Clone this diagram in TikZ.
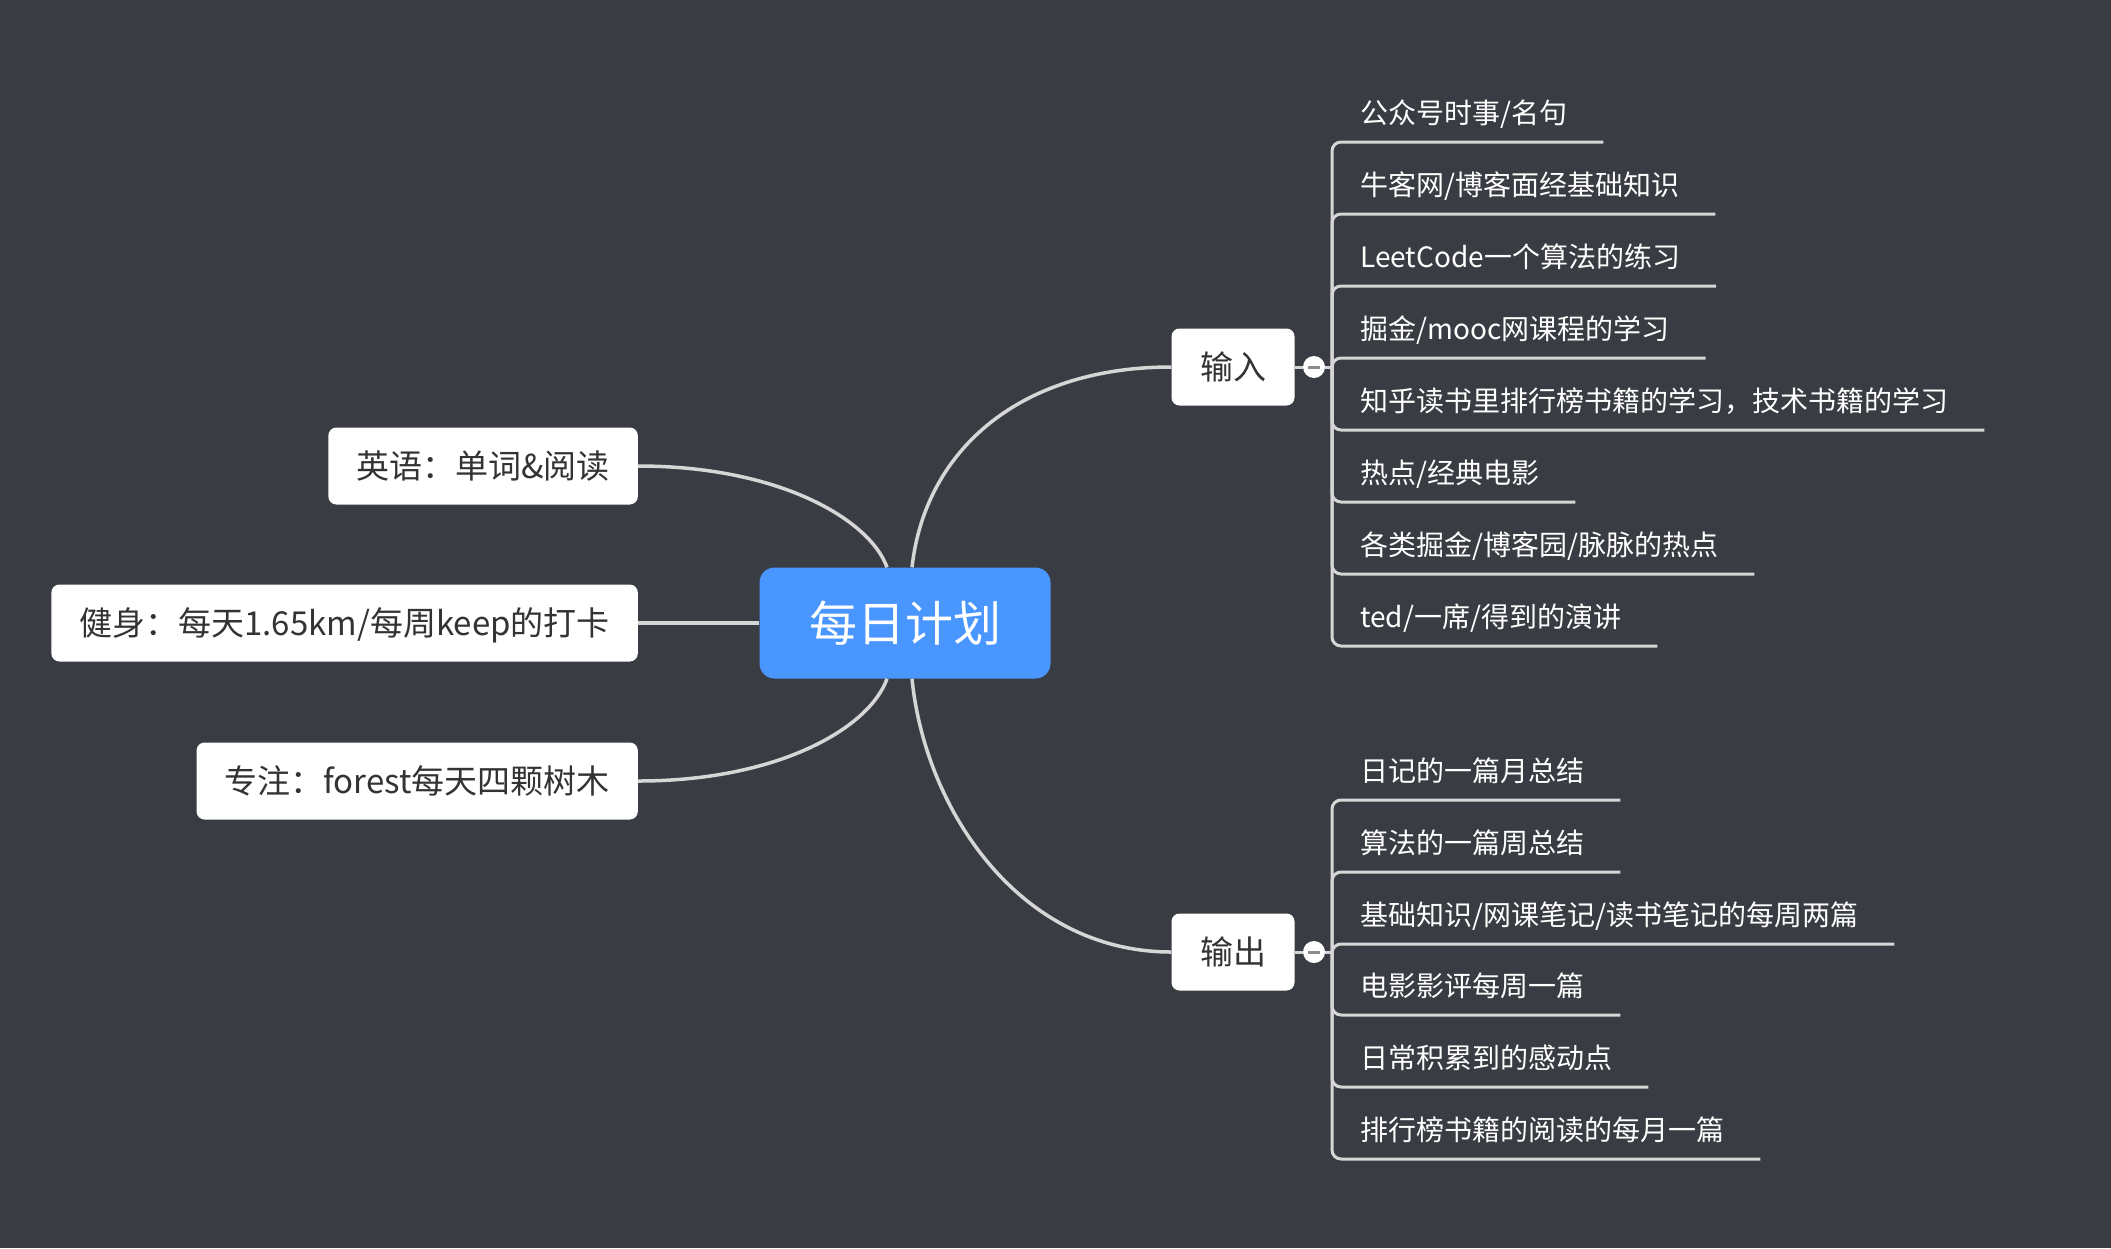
\documentclass[tikz,border=0pt]{standalone}
\usepackage{fontspec}
\setmainfont{Noto Sans CJK SC}
\usepackage{tikz}
\usetikzlibrary{positioning,calc}
\usepackage{xcolor}
\definecolor{canvas}{RGB}{57,60,66}
\definecolor{rootblue}{RGB}{74,150,255}
\definecolor{linegray}{RGB}{214,214,214}
\definecolor{textgray}{RGB}{51,51,51}
\definecolor{foldgray}{RGB}{140,140,140}

\begin{document}
\begin{tikzpicture}[
    x=1pt, y=-1pt,
    root/.style={rectangle, rounded corners=15pt, fill=rootblue, text=white,
                 minimum width=291pt, minimum height=111pt, inner sep=0pt,
                 font=\fontsize{48}{58}\selectfont, text height=42pt, text depth=6pt},
    topic/.style={rectangle, rounded corners=8pt, fill=white, text=textgray,
                  minimum height=77pt, inner xsep=28pt, inner ysep=0pt,
                  font=\fontsize{33}{40}\selectfont, text height=29pt, text depth=4pt},
    leaf/.style={anchor=west, inner sep=0pt, text=white,
                 font=\fontsize{28}{34}\selectfont, text height=24.6pt, text depth=3.4pt},
    conn/.style={draw=linegray, line width=3.5pt},
    branch/.style={draw=linegray, line width=3pt, rounded corners=9pt},
    fold/.style={circle, fill=white, minimum size=22pt, inner sep=0pt},
    minus/.style={draw=foldgray, line width=3pt}
]
% Canvas
\fill[canvas] (0,0) rectangle (2111,1248);
\useasboundingbox (0,0) rectangle (2111,1248);

% Central topic
\node[root] (plan) at (905,623) {每日计划};

% Left topics
\node[topic, anchor=east] (eng) at (638,466) {英语：单词\&阅读};
\node[topic, anchor=east] (fit) at (638,623) {健身：每天1.65km/每周keep的打卡};
\node[topic, anchor=east] (foc) at (638,781) {专注：forest每天四颗树木};

% Right topics
\node[topic, minimum width=123pt] (inT) at (1233,367) {输入};
\node[topic, minimum width=123pt] (outT) at (1233,952) {输出};

% Fold markers
\node[fold] (inF) at (1314,367) {};
\node[fold] (outF) at (1314,952) {};
\coordinate (inJ) at (1332,367);
\coordinate (outJ) at (1332,952);

% Input leaves
\node[leaf] (in1) at (1360,113) {公众号时事/名句};
\node[leaf] (in2) at (1360,185) {牛客网/博客面经基础知识};
\node[leaf] (in3) at (1360,257) {LeetCode一个算法的练习};
\node[leaf] (in4) at (1360,329) {掘金/mooc网课程的学习};
\node[leaf] (in5) at (1360,401) {知乎读书里排行榜书籍的学习，技术书籍的学习};
\node[leaf] (in6) at (1360,473) {热点/经典电影};
\node[leaf] (in7) at (1360,545) {各类掘金/博客园/脉脉的热点};
\node[leaf] (in8) at (1360,617) {ted/一席/得到的演讲};

% Output leaves
\node[leaf] (out1) at (1360,771) {日记的一篇月总结};
\node[leaf] (out2) at (1360,843) {算法的一篇周总结};
\node[leaf] (out3) at (1360,915) {基础知识/网课笔记/读书笔记的每周两篇};
\node[leaf] (out4) at (1360,986) {电影影评每周一篇};
\node[leaf] (out5) at (1360,1058) {日常积累到的感动点};
\node[leaf] (out6) at (1360,1130) {排行榜书籍的阅读的每月一篇};

% Main connectors
\draw[conn] ([xshift=7pt]plan.north) .. controls (925,450) and (1020,367) .. (inT.west);
\draw[conn] ([xshift=7pt]plan.south) .. controls (925,810) and (1020,952) .. (outT.west);
\draw[conn] (eng.east) .. controls (780,466) and (870,520) .. ([xshift=-18pt]plan.north);
\draw[conn] (fit.east) -- (plan.west);
\draw[conn] (foc.east) .. controls (780,781) and (870,727) .. ([xshift=-18pt]plan.south);

% Fold links
\draw[branch] (inT.east) -- (inF);
\draw[branch] (inF) -- (inJ);
\draw[branch] (outT.east) -- (outF);
\draw[branch] (outF) -- (outJ);
\draw[minus] ([xshift=-6pt]inF.center) -- ([xshift=6pt]inF.center);
\draw[minus] ([xshift=-6pt]outF.center) -- ([xshift=6pt]outF.center);

% Input branches
\draw[branch] (inJ) |- ([xshift=36pt, yshift=-29pt]in1.east);
\draw[branch] (inJ) |- ([xshift=36pt, yshift=-29pt]in2.east);
\draw[branch] (inJ) |- ([xshift=36pt, yshift=-29pt]in3.east);
\draw[branch] (inJ) |- ([xshift=36pt, yshift=-29pt]in4.east);
\draw[branch] (inJ) |- ([xshift=36pt, yshift=-29pt]in5.east);
\draw[branch] (inJ) |- ([xshift=36pt, yshift=-29pt]in6.east);
\draw[branch] (inJ) |- ([xshift=36pt, yshift=-29pt]in7.east);
\draw[branch] (inJ) |- ([xshift=36pt, yshift=-29pt]in8.east);

% Output branches
\draw[branch] (outJ) |- ([xshift=36pt, yshift=-29pt]out1.east);
\draw[branch] (outJ) |- ([xshift=36pt, yshift=-29pt]out2.east);
\draw[branch] (outJ) |- ([xshift=36pt, yshift=-29pt]out3.east);
\draw[branch] (outJ) |- ([xshift=36pt, yshift=-29pt]out4.east);
\draw[branch] (outJ) |- ([xshift=36pt, yshift=-29pt]out5.east);
\draw[branch] (outJ) |- ([xshift=36pt, yshift=-29pt]out6.east);
\end{tikzpicture}
\end{document}
